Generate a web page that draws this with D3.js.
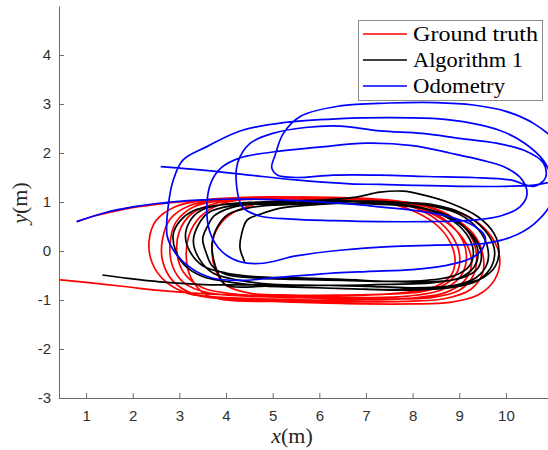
<!DOCTYPE html>
<html><head><meta charset="utf-8">
<script src="https://cdn.jsdelivr.net/npm/d3@7"></script>
<style>body{margin:0;background:#fff}svg{display:block}</style>
</head><body><svg id="c" width="548" height="450"></svg>
<script>
const xTicks = [1,2,3,4,5,6,7,8,9,10];
const yTicks = [-3,-2,-1,0,1,2,3,4];
const seriesNames = ["Ground truth","Algorithm 1","Odometry"];
const seriesColors = ["#ff0000","#000000","#0000ff"];

const groundTruth = [
 [0.8,0.6],[1.2,0.72],[1.8,0.85],[2.5,0.95],[3.3,1.02],[4.2,1.06],[5.2,1.07],[6.2,1.06],[7.0,1.03],
 [7.6,0.95],[8.1,0.78],[8.55,0.5],[8.82,0.15],[8.91,-0.2],[8.82,-0.5],[8.5,-0.72],[7.9,-0.84],[7.0,-0.9],[6.0,-0.92],[5.0,-0.92],[4.2,-0.88],
 [3.5,-0.75],[3.1,-0.45],[2.95,-0.05],[3.0,0.4],[3.25,0.75],[3.8,0.98],[4.6,1.06],[5.6,1.08],[6.6,1.06],[7.3,1.02],
 [7.9,0.93],[8.5,0.72],[8.95,0.4],[9.2,0.05],[9.26,-0.3],[9.1,-0.62],[8.7,-0.85],[8.0,-0.96],[7.0,-1.0],[6.0,-1.0],[5.0,-0.98],[4.0,-0.95],
 [3.2,-0.87],[2.7,-0.62],[2.42,-0.25],[2.35,0.2],[2.5,0.62],[2.9,0.9],[3.6,1.05],[4.6,1.1],[5.6,1.1],[6.6,1.08],[7.4,1.04],
 [8.1,0.95],[8.8,0.72],[9.3,0.35],[9.5,-0.05],[9.5,-0.45],[9.25,-0.78],[8.7,-0.97],[7.8,-1.03],[6.8,-1.04],[5.8,-1.03],[4.8,-1.0],[3.9,-0.97],
 [3.3,-0.88],[2.85,-0.6],[2.64,-0.2],[2.64,0.25],[2.8,0.65],[3.2,0.92],[3.9,1.05],[4.8,1.09],[5.8,1.09],[6.8,1.06],[7.5,1.02],
 [8.0,0.9],[8.5,0.65],[8.85,0.3],[9.0,-0.05],[8.97,-0.4],[8.7,-0.68],[8.2,-0.83],[7.4,-0.88],[6.4,-0.9],[5.4,-0.9],[4.5,-0.86],
 [4.0,-0.7],[3.78,-0.4],[3.7,0.0],[3.78,0.4],[4.05,0.72],[4.6,0.95],[5.4,1.04],[6.4,1.05],[7.2,1.03],
 [8.0,0.98],[8.8,0.85],[9.4,0.58],[9.75,0.2],[9.87,-0.2],[9.75,-0.6],[9.4,-0.9],[8.8,-1.05],[8.0,-1.08],[7.0,-1.08],[6.0,-1.06],[5.0,-1.03],[4.0,-1.0],
 [3.55,-0.88],[3.25,-0.55],[3.15,-0.15],[3.2,0.3],[3.45,0.7],[3.95,0.98],[4.8,1.08],[5.8,1.1],[6.8,1.08],[7.6,1.03],
 [8.3,0.92],[8.9,0.66],[9.25,0.3],[9.37,-0.1],[9.3,-0.5],[9.0,-0.8],[8.4,-0.95],[7.5,-0.98],[6.5,-0.97],[5.5,-0.95],[4.5,-0.92],[3.6,-0.85],
 [3.1,-0.65],[2.85,-0.3],[2.8,0.15],[2.92,0.58],[3.3,0.9],[4.0,1.04],[5.0,1.08],[6.0,1.08],[7.0,1.05],[7.7,1.0],
 [8.3,0.85],[8.8,0.55],[9.08,0.2],[9.15,-0.2],[9.0,-0.55],[8.6,-0.8],[7.9,-0.92],[7.0,-0.95],[6.0,-0.94],[5.0,-0.92],[4.2,-0.9],
 [3.3,-0.86],[2.5,-0.8],[1.87,-0.73],[1.2,-0.66],[0.45,-0.59],[0.0,-0.55]
];

const algorithm1 = [
 [4.4,-0.22],[4.3,0.06],[4.33,0.33],[4.45,0.63],[4.73,0.75],[5.2,0.88],[6.0,0.95],[6.8,0.98],[7.5,0.98],
 [8.2,0.88],[8.8,0.65],[9.15,0.35],[9.3,0.0],[9.22,-0.3],[8.9,-0.5],[8.3,-0.6],[7.5,-0.62],[6.5,-0.6],[5.5,-0.58],[4.6,-0.55],[4.0,-0.48],
 [3.7,-0.3],[3.58,-0.05],[3.5,0.25],[3.6,0.5],[3.75,0.72],[4.1,0.88],[4.7,0.97],[5.5,1.0],[6.3,1.0],[7.0,1.02],[7.6,1.0],
 [8.4,0.92],[9.0,0.75],[9.4,0.45],[9.6,0.1],[9.6,-0.25],[9.35,-0.55],[8.8,-0.72],[8.0,-0.78],[7.0,-0.78],[6.0,-0.75],[5.0,-0.72],[4.2,-0.65],
 [3.5,-0.52],[3.12,-0.3],[2.92,0.0],[2.87,0.35],[3.02,0.62],[3.3,0.82],[3.8,0.93],[4.5,0.98],[5.3,1.02],[6.2,1.05],[6.8,1.1],[7.3,1.2],[7.8,1.22],[8.2,1.15],
 [8.8,0.98],[9.4,0.7],[9.75,0.35],[9.85,0.0],[9.78,-0.3],[9.5,-0.55],[8.9,-0.7],[8.0,-0.75],[7.0,-0.72],[6.0,-0.7],[5.0,-0.68],[4.3,-0.6],
 [3.72,-0.45],[3.42,-0.15],[3.3,0.2],[3.4,0.52],[3.62,0.78],[4.1,0.92],[4.9,0.96],[5.8,0.97],[6.7,0.97],[7.5,0.95],
 [8.3,0.85],[8.9,0.62],[9.3,0.3],[9.47,-0.05],[9.4,-0.35],[9.05,-0.55],[8.4,-0.63],[7.5,-0.62],[6.5,-0.58],[5.5,-0.55],[4.6,-0.52],[4.0,-0.45],
 [3.5,-0.3],[3.22,0.0],[3.13,0.3],[3.22,0.6],[3.45,0.82],[3.95,0.95],[4.7,1.0],[5.6,1.03],[6.5,1.03],[7.3,1.0],
 [8.4,0.95],[9.1,0.75],[9.55,0.42],[9.75,0.05],[9.7,-0.3],[9.4,-0.6],[8.8,-0.75],[7.9,-0.8],[6.9,-0.78],[5.9,-0.75],[4.9,-0.72],[4.0,-0.7],
 [3.85,-0.5],[3.74,-0.2],[3.7,0.15],[3.82,0.5],[4.05,0.75],[4.6,0.9],[5.4,0.95],[6.3,0.97],[7.1,0.96],
 [8.2,0.88],[8.9,0.65],[9.25,0.32],[9.4,0.0],[9.32,-0.32],[9.0,-0.55],[8.4,-0.65],[7.5,-0.68],[6.5,-0.7],[5.5,-0.7],[4.5,-0.69],[3.66,-0.69],
 [2.58,-0.63],[1.9,-0.56],[1.35,-0.49]
];

const odometry = [
 [0.8,0.6],[1.4,0.78],[2.0,0.9],[2.8,1.0],[3.6,1.05],[4.5,1.06],[5.5,1.03],[6.5,0.97],[7.3,0.9],[8.1,0.82],[8.8,0.7],[9.3,0.52],[9.55,0.3],
 [9.5,0.05],[9.25,-0.15],[8.7,-0.3],[8.0,-0.38],[7.0,-0.42],[6.0,-0.47],[5.0,-0.55],[4.3,-0.6],[3.7,-0.55],[3.25,-0.35],[2.92,-0.05],[2.74,0.3],
 [2.76,0.9],[2.87,1.45],[3.08,1.86],[3.59,2.13],[4.3,2.45],[5.23,2.62],[6.44,2.7],[7.5,2.72],[8.5,2.7],[9.2,2.62],
 [9.9,2.45],[10.4,2.2],[10.8,1.85],[11.0,1.4],[10.95,0.95],[10.6,0.55],[10.1,0.28],[9.5,0.15],[8.5,0.12],[7.5,0.09],[6.5,0.02],[5.5,-0.1],[4.8,-0.25],[4.3,-0.22],
 [3.9,0.0],[3.65,0.4],[3.59,0.94],[3.68,1.4],[3.9,1.7],[4.3,1.9],[5.0,2.02],[6.0,2.12],[7.0,2.2],[8.0,2.15],[8.8,2.0],
 [9.5,1.85],[10.0,1.7],[10.35,1.45],[10.45,1.15],[10.3,0.9],[9.9,0.72],[9.3,0.63],[8.3,0.6],[7.3,0.6],[6.3,0.62],[5.4,0.65],[4.7,0.72],
 [4.35,0.9],[4.23,1.3],[4.25,1.8],[4.52,2.2],[5.0,2.4],[5.7,2.52],[6.44,2.55],[7.3,2.45],[8.2,2.4],[9.0,2.3],
 [9.8,2.2],[10.4,2.05],[10.8,1.8],[10.85,1.5],[10.6,1.32],[10.1,1.45],[9.3,1.5],[8.3,1.52],[7.3,1.55],[6.3,1.55],[5.5,1.5],[5.1,1.55],
 [4.98,1.7],[5.05,1.95],[5.23,2.4],[5.6,2.75],[6.44,2.96],[7.5,3.02],[8.5,3.03],[9.3,2.98],
 [10.0,2.85],[10.6,2.6],[11.1,2.2],[11.3,1.8],[11.2,1.5],[10.7,1.36],[10.0,1.32],[9.0,1.32],[8.0,1.34],[7.3,1.36],[6.66,1.37],[5.5,1.45],[4.5,1.55],[3.5,1.65],[2.6,1.72]
];

const seriesData = [groundTruth, algorithm1, odometry];

const svg = d3.select("#c");
const pLeft = 59, pTop = 6, pBottom = 398, pRight = 552.6;
const x = d3.scaleLinear().domain([0.42, 11]).range([pLeft, pRight]);
const y = d3.scaleLinear().domain([-3, 5]).range([pBottom, pTop]);

svg.append("defs").append("clipPath").attr("id","clip")
  .append("rect").attr("x",pLeft).attr("y",pTop).attr("width",pRight-pLeft).attr("height",pBottom-pTop);

const line = d3.line().x(d=>x(d[0])).y(d=>y(d[1])).curve(d3.curveCatmullRom.alpha(0.5));
const plot = svg.append("g").attr("clip-path","url(#clip)");
seriesData.forEach((s,i)=>{
  plot.append("path").attr("d", line(s)).attr("fill","none")
    .attr("stroke", seriesColors[i]).attr("stroke-width",1.7).attr("stroke-linejoin","round");
});

const axisColor = "#6b6b6b";
const fmt = d => String(d);
const gx = svg.append("g").attr("transform",`translate(0,${pBottom})`)
  .call(d3.axisBottom(x).tickValues(xTicks).tickSize(-5).tickSizeOuter(0).tickPadding(12).tickFormat(fmt));
const gy = svg.append("g").attr("transform",`translate(${pLeft},0)`)
  .call(d3.axisLeft(y).tickValues(yTicks).tickSize(-5).tickSizeOuter(0).tickPadding(8).tickFormat(fmt));
[gx,gy].forEach(g=>{
  g.select(".domain").attr("stroke",axisColor).attr("stroke-width",1);
  g.selectAll(".tick line").attr("stroke",axisColor).attr("stroke-width",1);
  g.selectAll(".tick text").attr("fill","#303030").style("font-family","'Liberation Sans', Arial, sans-serif").style("font-size","15px");
});

const xl = svg.append("text").attr("x",292).attr("y",443).attr("text-anchor","middle")
  .style("font-family","'Liberation Serif', serif").style("font-size","22px").attr("fill","#262626");
xl.append("tspan").style("font-style","italic").text("x");
xl.append("tspan").text("(m)");
const yl = svg.append("text").attr("transform","translate(27,203) rotate(-90)").attr("text-anchor","middle")
  .style("font-family","'Liberation Serif', serif").style("font-size","22px").attr("fill","#262626");
yl.append("tspan").style("font-style","italic").text("y");
yl.append("tspan").text("(m)");

const lg = svg.append("g");
lg.append("rect").attr("x",358.5).attr("y",20.5).attr("width",184).attr("height",80)
  .attr("fill","#fff").attr("stroke","#8c8c8c").attr("stroke-width",1);
const textWidths = [125,110,92];
seriesNames.forEach((n,i)=>{
  const yy = 34 + i*26;
  lg.append("line").attr("x1",363).attr("x2",407).attr("y1",yy).attr("y2",yy)
    .attr("stroke",seriesColors[i]).attr("stroke-width",1.7);
  lg.append("text").attr("x",413).attr("y",yy+6.5).text(n)
    .attr("textLength",textWidths[i]).attr("lengthAdjust","spacingAndGlyphs")
    .style("font-family","'Liberation Serif', serif").style("font-size","20px").attr("fill","#000");
});
</script></body></html>
